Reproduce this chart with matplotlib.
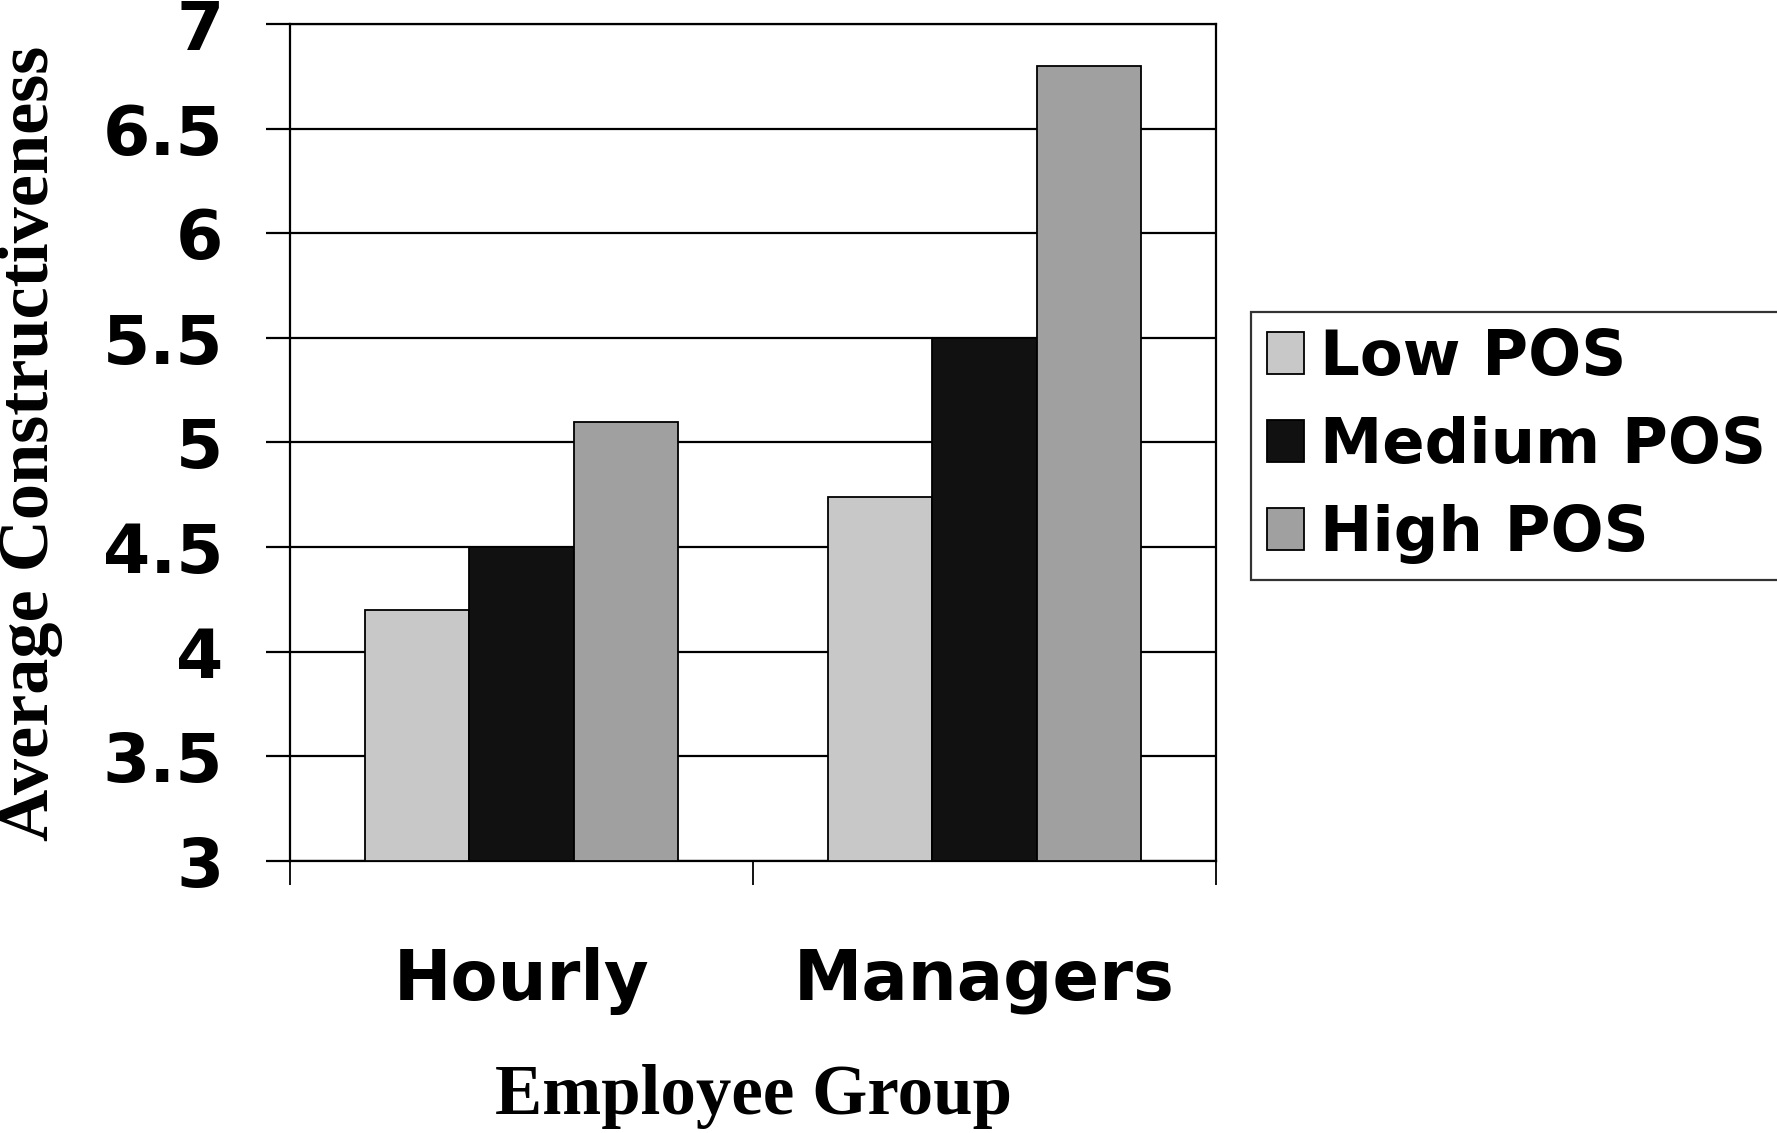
import numpy as np
import matplotlib
matplotlib.use("Agg")
import matplotlib.pyplot as plt

# data
groups = ["Hourly", "Managers"]
series = ["Low POS", "Medium POS", "High POS"]
low_pos = [4.2, 4.74]
medium_pos = [4.5, 5.5]
high_pos = [5.1, 6.8]
colors = ["#c8c8c8", "#111111", "#a0a0a0"]
yticks = [3, 3.5, 4, 4.5, 5, 5.5, 6, 6.5, 7]
ytick_labels = ["3", "3.5", "4", "4.5", "5", "5.5", "6", "6.5", "7"]

fig = plt.figure(figsize=(17.77, 11.33), dpi=100)
ax = fig.add_axes([0.1632, 0.2401, 0.5211, 0.7387])

x = np.arange(len(groups))
w = 0.225
for i, (vals, name) in enumerate(zip([low_pos, medium_pos, high_pos], series)):
    ax.bar(x + (i - 1) * w, np.array(vals) - 3, bottom=3, width=w,
           color=colors[i], edgecolor="black", linewidth=1.3, label=name, zorder=3)

ax.set_xlim(-0.5, 1.5)
ax.set_ylim(3, 7)

# grid lines and y ticks
ax.set_yticks(yticks)
ax.set_yticklabels(ytick_labels)
ax.yaxis.grid(True, color="black", linewidth=1.6, zorder=0)
ax.tick_params(axis="y", length=17, width=1.6, pad=31, labelsize=49)
for lab in ax.get_yticklabels():
    lab.set_fontweight("bold")
    lab.set_family("DejaVu Sans")

# category labels at centres, boundary ticks as minor ticks
ax.set_xticks(x)
ax.set_xticklabels(groups)
ax.set_xticks([-0.5, 0.5, 1.5], minor=True)
ax.tick_params(axis="x", which="major", length=0, pad=62, labelsize=49.5)
ax.tick_params(axis="x", which="minor", length=17, width=1.3)
for lab in ax.get_xticklabels():
    lab.set_fontweight("bold")
    lab.set_family("DejaVu Sans")

for s in ax.spines.values():
    s.set_linewidth(1.6)

fig.text(0.017, 0.609, "Average Constructiveness", rotation=90, ha="center", va="center",
         family="Liberation Serif", fontweight="bold", fontsize=52)
fig.text(0.4238, 0.032, "Employee Group", ha="center", va="center",
         family="Liberation Serif", fontweight="bold", fontsize=51)

leg = fig.legend(loc="upper left", bbox_to_anchor=(0.704, 0.7246), borderaxespad=0,
                 prop={"family": "DejaVu Sans", "weight": "bold", "size": 45},
                 frameon=True, fancybox=False, shadow=False,
                 handlelength=0.6, handleheight=0.65, handletextpad=0.25,
                 labelspacing=0.45, borderpad=0.25)
leg.get_frame().set_edgecolor("black")
leg.get_frame().set_linewidth(1.6)

fig.savefig("out.png", dpi=100, facecolor="white")
